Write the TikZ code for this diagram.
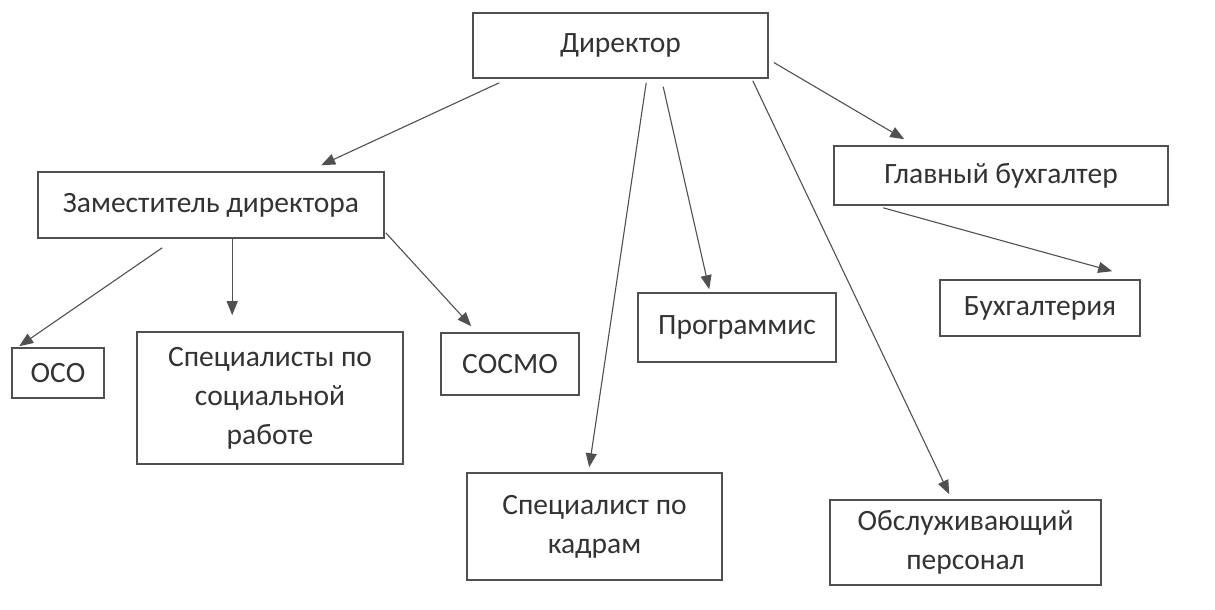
\documentclass[tikz,border=0pt]{standalone}
\usepackage{fontspec}
\setmainfont{Carlito}
\usetikzlibrary{arrows.meta,calc}
\definecolor{ink}{HTML}{333333}
\definecolor{linec}{HTML}{505050}
\tikzset{
  box/.style={draw=linec, line width=1.6pt, rectangle, align=center, text=ink,
    inner sep=0pt, font=\fontsize{29.5}{39}\selectfont},
  arr/.style={draw=linec, line width=1.1pt, -{Triangle[length=14pt,width=11pt]}},
}
\begin{document}
\begin{tikzpicture}[x=1pt,y=-1pt]
\useasboundingbox (0,0) rectangle (1215,610);
\node[box, minimum width=295pt, minimum height=65pt] (dir) at (620.5,45.5) {Директор};
\node[box, minimum width=346pt, minimum height=66pt] (zam) at (211,205) {Заместитель директора};
\node[box, minimum width=334pt, minimum height=59pt] (glav) at (1001,175.5) {Главный бухгалтер};
\node[box, minimum width=200pt, minimum height=56pt] (buh) at (1040,308) {Бухгалтерия};
\node[box, minimum width=198pt, minimum height=69pt] (prog) at (737,327.5) {Программис};
\node[box, minimum width=92pt, minimum height=50pt] (oso) at (58,373) {ОСО};
\node[box, minimum width=266pt, minimum height=132pt] (spec) at (270,398) {Специалисты по\\социальной\\работе};
\node[box, minimum width=138pt, minimum height=62pt] (sosmo) at (510,364) {СОСМО};
\node[box, minimum width=255pt, minimum height=107pt] (kad) at (594.5,526.5) {Специалист по\\кадрам};
\node[box, minimum width=271pt, minimum height=85pt] (obs) at (965.5,542.5) {Обслуживающий\\персонал};

\draw[arr] ($(dir.south west)+(27,4)$) -- ($(zam.north west)+(284,-6)$);
\draw[arr] ($(dir.south west)+(174,4)$) -- ($(kad.north west)+(123,-5)$);
\draw[arr] ($(dir.south west)+(191,8)$) -- ($(prog.north west)+(72,-3)$);
\draw[arr] ($(dir.south east)+(-16,2)$) -- ($(obs.north west)+(120,-5)$);
\draw[arr] ($(dir.east)+(5,17)$) -- ($(glav.north west)+(71,-6)$);
\draw[arr] ($(glav.south west)+(50,2)$) -- ($(buh.north west)+(173,-8)$);
\draw[arr] ($(zam.south west)+(125,9)$) -- ($(oso.north west)+(8,-1)$);
\draw[arr] ($(zam.south west)+(195,0)$) -- ($(spec.north west)+(96,-16)$);
\draw[arr] ($(zam.south east)+(1,-6)$) -- ($(sosmo.north west)+(31,-6)$);
\end{tikzpicture}
\end{document}
